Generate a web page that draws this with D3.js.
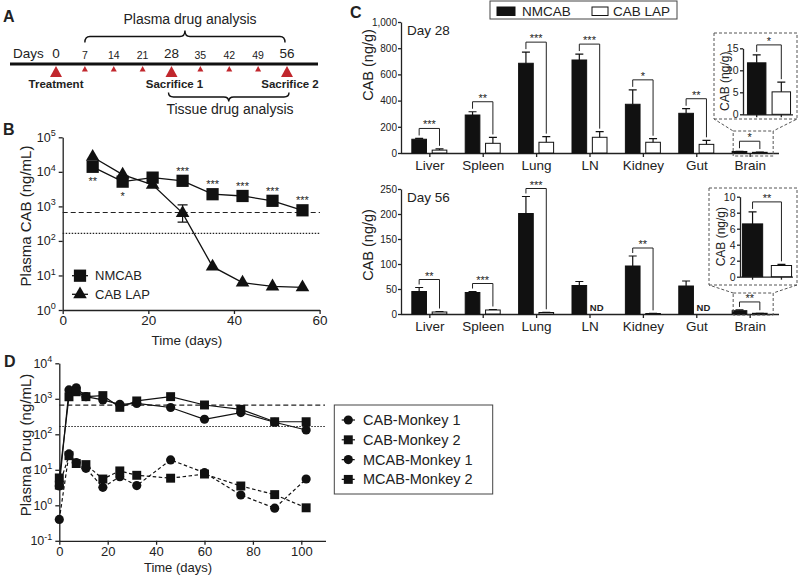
<!DOCTYPE html>
<html>
<head>
<meta charset="utf-8">
<script src="https://cdn.jsdelivr.net/npm/d3@7"></script>
<style>
  body { margin: 0; background: #fff; }
  text { font-family: "Liberation Sans", Arial, sans-serif; fill: #222; }
</style>
</head>
<body>
<svg width="800" height="580"></svg>
<script>
// ---------- data ----------
// A: study timeline
var bigDays = [0, 28, 56];
var smallDays = [7, 14, 21, 35, 42, 49];
var eventLabels = ['Treatment', 'Sacrifice 1', 'Sacrifice 2'];

// B: plasma CAB (ng/mL)
var daysB = [7, 14, 21, 28, 35, 42, 49, 56];
var nmcabB = [14000, 5200, 6800, 5500, 2250, 2000, 1450, 770];
var lapB = [27000, 8300, 4200, 640, 18, 6.2, 4.8, 4.5];
var lapLoB = [null, null, null, 350, null, null, null, null];
var lapHiB = [null, null, null, 1100, null, null, null, null];
var starsB = ['**', '*', '', '***', '***', '***', '***', '***'];
var ic90 = [664, 166];

// C: tissue CAB (ng/g)
var organs = ['Liver', 'Spleen', 'Lung', 'LN', 'Kidney', 'Gut', 'Brain'];
var groups = ['NMCAB', 'CAB LAP'];
var nm28 = [105, 290, 685, 710, 372, 303, 11.7];
var nm28Err = [6, 25, 85, 45, 110, 35, 1.8];
var lap28 = [22, 74, 82, 120, 82, 66, 5.1];
var lap28Err = [10, 45, 43, 43, 27, 31, 2.2];
var sig28 = ['***', '**', '***', '***', '*', '**', '*'];
var nm56 = [45, 43, 201, 57, 96, 56, 6.6];
var nm56Err = [8, 2, 34, 8, 20, 10, 1.5];
var lap56 = [4, 8, 3, 0, 1, 0, 1.4];
var lap56Err = [1, 1, 0.5, 0, 0.3, 0, 0.15];
var sig56 = ['**', '***', '***', '', '**', '', '**'];
var nd56 = ['', '', '', 'ND', '', 'ND', ''];

// D: monkey plasma drug (ng/mL)
var daysD = [0, 4, 7, 11, 18, 25, 32, 46, 60, 75, 89, 102];
var cabM1 = [3.5, 1780, 2050, 1150, 930, 700, 740, 570, 265, 410, 218, 132];
var cabM2 = [5.9, 1140, 1580, 1150, 1230, 575, 870, 1150, 670, 505, 226, 226];
var mcabM1 = [0.4, 28, 16, 11, 3.2, 6.4, 3.6, 19, 8.3, 1.95, 0.83, 5.5];
var mcabM2 = [3.7, 25, 15, 14, 5.5, 9.3, 7, 5.8, 7.6, 3.5, 2, 0.85];

var svg = d3.select('svg');

function styleAxis(g, size) {
  g.attr('font-size', size).attr('color', '#222');
  g.selectAll('path, line').attr('stroke-width', 1.3);
  return g;
}

function powLabels(g, x, size) {
  g.selectAll('.tick text').each(function(d) {
    var t = d3.select(this).attr('x', x).attr('font-size', size);
    t.append('tspan').text('10');
    t.append('tspan').attr('dy', '-0.6em').attr('font-size', size * 0.72)
      .text(Math.round(Math.log10(d)));
  });
}

function letter(t, x, y) {
  svg.append('text').attr('x', x).attr('y', y).attr('font-size', 16)
    .attr('font-weight', 'bold').text(t);
}

letter('A', 3, 22);
letter('B', 3, 135);
letter('C', 350, 18);
letter('D', 4, 367);

// ---------- A: timeline ----------
var xA = d3.scaleLinear().domain([0, 56]).range([56, 287]);
var gA = svg.append('g');

gA.append('line').attr('x1', 10).attr('x2', 318).attr('y1', 64).attr('y2', 64)
  .attr('stroke', '#111').attr('stroke-width', 3);

gA.append('text').attr('x', 13).attr('y', 58).attr('font-size', 13.5).text('Days');

gA.selectAll('.bigday').data(bigDays).enter().append('text')
  .attr('x', d => xA(d)).attr('y', 58).attr('text-anchor', 'middle')
  .attr('font-size', 13.5).text(d => d);

gA.selectAll('.smallday').data(smallDays).enter().append('text')
  .attr('x', d => xA(d)).attr('y', 59).attr('text-anchor', 'middle')
  .attr('font-size', 10.5).text(d => d);

gA.selectAll('.bigtri').data(bigDays).enter().append('path')
  .attr('d', d => 'M' + (xA(d) - 6) + ',77L' + xA(d) + ',66L' + (xA(d) + 6) + ',77Z')
  .attr('fill', '#c1272d');

gA.selectAll('.smalltri').data(smallDays).enter().append('path')
  .attr('d', d => 'M' + (xA(d) - 3) + ',71.5L' + xA(d) + ',66L' + (xA(d) + 3) + ',71.5Z')
  .attr('fill', '#c1272d');

gA.selectAll('.event').data(bigDays).enter().append('text')
  .attr('x', (d, i) => xA(d) + (i ? 3 : 0)).attr('y', 88).attr('text-anchor', 'middle')
  .attr('font-size', 11.5).attr('font-weight', 'bold')
  .text((d, i) => eventLabels[i]);

// curly brace, e > 0 means ends point down
function brace(x1, x2, y, e) {
  var m = (x1 + x2) / 2;
  return 'M' + x1 + ',' + (y + e) + 'Q' + x1 + ',' + y + ' ' + (x1 + 5) + ',' + y +
    'L' + (m - 5) + ',' + y + 'Q' + m + ',' + y + ' ' + m + ',' + (y - e) +
    'Q' + m + ',' + y + ' ' + (m + 5) + ',' + y +
    'L' + (x2 - 5) + ',' + y + 'Q' + x2 + ',' + y + ' ' + x2 + ',' + (y + e);
}

gA.append('path').attr('d', brace(xA(7), xA(56) - 2, 36.5, 6))
  .attr('fill', 'none').attr('stroke', '#111').attr('stroke-width', 1.4);
gA.append('text').attr('x', 190).attr('y', 24).attr('text-anchor', 'middle')
  .attr('font-size', 14).text('Plasma drug analysis');

gA.append('path').attr('d', brace(xA(28) - 3, xA(56) + 2, 97, -4.5))
  .attr('fill', 'none').attr('stroke', '#111').attr('stroke-width', 1.4);
gA.append('text').attr('x', 230).attr('y', 114).attr('text-anchor', 'middle')
  .attr('font-size', 14).text('Tissue drug analysis');

// ---------- B: plasma CAB ----------
var xB = d3.scaleLinear().domain([0, 60]).range([62.7, 319.6]);
var yB = d3.scaleLog().domain([1, 1e5]).range([310, 137.3]);
var gB = svg.append('g');

gB.selectAll('.ic').data(ic90).enter().append('line')
  .attr('x1', xB(0)).attr('x2', 320).attr('y1', d => yB(d)).attr('y2', d => yB(d))
  .attr('stroke', '#222').attr('stroke-width', 1.2)
  .attr('stroke-dasharray', (d, i) => i ? '1.5,1.5' : '5,3');

var xAxisB = gB.append('g').attr('transform', 'translate(0,310)')
  .call(d3.axisBottom(xB).tickValues([0, 20, 40, 60]).tickSize(4).tickPadding(1).tickSizeOuter(0));
styleAxis(xAxisB, 13.5);

var yAxisB = gB.append('g').attr('transform', 'translate(62.7,0)')
  .call(d3.axisLeft(yB).tickValues([1, 10, 100, 1000, 1e4, 1e5]).tickSize(4)
    .tickSizeOuter(0).tickFormat(''));
styleAxis(yAxisB, 12.5);
powLabels(yAxisB, -7, 12.5);

gB.append('text').attr('transform', 'translate(31,216) rotate(-90)')
  .attr('text-anchor', 'middle').attr('font-size', 15).text('Plasma CAB (ng/mL)');
gB.append('text').attr('x', 187).attr('y', 345).attr('text-anchor', 'middle')
  .attr('font-size', 13.5).text('Time (days)');

var lineB = d3.line().x((d, i) => xB(daysB[i])).y(d => yB(d));
gB.append('path').attr('d', lineB(lapB)).attr('fill', 'none').attr('stroke', '#111').attr('stroke-width', 1.3);
gB.append('path').attr('d', lineB(nmcabB)).attr('fill', 'none').attr('stroke', '#111').attr('stroke-width', 1.3);

// error bar on CAB LAP
gB.selectAll('.errB').data(daysB.filter((d, i) => lapLoB[i] != null)).enter().append('path')
  .attr('d', d => {
    var i = daysB.indexOf(d), cx = xB(d), y0 = yB(lapLoB[i]), y1 = yB(lapHiB[i]);
    return 'M' + cx + ',' + y0 + 'V' + y1 + 'M' + (cx - 5) + ',' + y0 + 'H' + (cx + 5) +
      'M' + (cx - 5) + ',' + y1 + 'H' + (cx + 5);
  })
  .attr('stroke', '#111').attr('stroke-width', 1.2).attr('fill', 'none');

var triB = d3.symbol().type(d3.symbolTriangle).size(80);
var sqB = d3.symbol().type(d3.symbolSquare).size(150);

gB.selectAll('.tri').data(lapB).enter().append('path')
  .attr('transform', (d, i) => 'translate(' + xB(daysB[i]) + ',' + yB(d) + ')')
  .attr('d', triB).attr('fill', '#111');
gB.selectAll('.sq').data(nmcabB).enter().append('path')
  .attr('transform', (d, i) => 'translate(' + xB(daysB[i]) + ',' + yB(d) + ')')
  .attr('d', sqB).attr('fill', '#111');

// significance stars: above when NMCAB higher, below otherwise
gB.selectAll('.starB').data(starsB).enter().append('text')
  .attr('x', (d, i) => xB(daysB[i]))
  .attr('y', (d, i) => nmcabB[i] > lapB[i] ? yB(nmcabB[i]) - 6 : yB(nmcabB[i]) + 18)
  .attr('text-anchor', 'middle').attr('font-size', 11).text(d => d);

// legend B
[['NMCAB', sqB], ['CAB LAP', triB]].forEach(function(l, i) {
  var ly = 275.7 + i * 18.6;
  gB.append('line').attr('x1', 72).attr('x2', 88).attr('y1', ly).attr('y2', ly)
    .attr('stroke', '#111').attr('stroke-width', 1.3);
  gB.append('path').attr('transform', 'translate(80,' + ly + ')').attr('d', l[1]).attr('fill', '#111');
  gB.append('text').attr('x', 95).attr('y', ly + 4.5).attr('font-size', 13).text(l[0]);
});

// ---------- C: tissue CAB ----------
var gC = svg.append('g');
var xC = d3.scaleBand().domain(organs).range([401, 779]).paddingOuter(0.04);
var xSub = d3.scaleBand().domain(groups)
  .range([xC.bandwidth() / 2 - 18, xC.bandwidth() / 2 + 17]).paddingInner(0.28);

// legend C
gC.append('rect').attr('x', 490).attr('y', 1).attr('width', 187).attr('height', 18)
  .attr('fill', '#fff').attr('stroke', '#444').attr('stroke-width', 1);
groups.forEach(function(gname, i) {
  var lx = [497, 592][i];
  gC.append('rect').attr('x', lx).attr('y', 7).attr('width', i ? 16 : 18).attr('height', 8.5)
    .attr('fill', i ? '#fff' : '#111').attr('stroke', '#111').attr('stroke-width', 1);
  gC.append('text').attr('x', lx + (i ? 21 : 25)).attr('y', 15.5).attr('font-size', 13.5).text(gname);
});

function makeRows(nm, nmE, lap, lapE, sig, nd) {
  return organs.map((o, i) => ({ organ: o, v: [nm[i], lap[i]], e: [nmE[i], lapE[i]], sig: sig[i], nd: nd ? nd[i] : '' }));
}

function drawBars(g, rows, xPos, bw, y, off) {
  [0, 1].forEach(function(j) {
    var vis = rows.filter(d => d.v[j] > 0);
    g.selectAll('rect.b' + j).data(vis).enter().append('rect')
      .attr('x', d => xPos(d, j)).attr('width', bw)
      .attr('y', d => y(d.v[j])).attr('height', d => y(0) - y(d.v[j]))
      .attr('fill', j ? '#fff' : '#111').attr('stroke', '#111').attr('stroke-width', 1);
    g.selectAll('path.e' + j).data(vis).enter().append('path')
      .attr('d', d => {
        var cx = xPos(d, j) + bw / 2, y0 = y(d.v[j]), y1 = y(d.v[j] + d.e[j]);
        return 'M' + cx + ',' + y0 + 'V' + y1 + 'M' + (cx - 4) + ',' + y1 + 'H' + (cx + 4);
      })
      .attr('stroke', '#111').attr('stroke-width', 1.2).attr('fill', 'none');
  });
  rows.filter(d => d.sig).forEach(function(d) {
    var xl = xPos(d, 0) + bw / 2, xr = xPos(d, 1) + bw / 2;
    var yl = y(d.v[0] + d.e[0]), yr = y(d.v[1] + d.e[1]);
    var yb = Math.min(yl, yr) - off;
    g.append('path').attr('d', 'M' + xl + ',' + (yl - 3) + 'V' + yb + 'H' + xr + 'V' + (yr - 3))
      .attr('fill', 'none').attr('stroke', '#222').attr('stroke-width', 1);
    g.append('text').attr('x', (xl + xr) / 2).attr('y', yb).attr('text-anchor', 'middle')
      .attr('font-size', 11).text(d.sig);
  });
  rows.filter(d => d.nd).forEach(function(d) {
    g.append('text').attr('x', xPos(d, 1) + bw / 2 - 3).attr('y', y(0) - 3)
      .attr('text-anchor', 'middle').attr('font-size', 9.5).attr('font-weight', 'bold').text(d.nd);
  });
}

function tissuePanel(rows, y, ticks, dayLabel, labelY, off) {
  var g = gC.append('g');
  var yAx = g.append('g').attr('transform', 'translate(401,0)')
    .call(d3.axisLeft(y).tickValues(ticks).tickSize(3).tickPadding(1).tickSizeOuter(0));
  styleAxis(yAx, 10);
  var xAx = g.append('g').attr('transform', 'translate(0,' + y(0) + ')')
    .call(d3.axisBottom(xC).tickSize(4).tickSizeOuter(0));
  styleAxis(xAx, 13.5);
  xAx.select('.domain').attr('d', 'M401,0.5H779');
  g.append('text').attr('x', 407).attr('y', y(ticks[ticks.length - 1]) + 13).attr('font-size', 13.5).text(dayLabel);
  g.append('text').attr('transform', 'translate(373,' + labelY + ') rotate(-90)')
    .attr('text-anchor', 'middle').attr('font-size', 14.5).text('CAB (ng/g)');
  drawBars(g, rows, (d, j) => xC(d.organ) + xSub(groups[j]), xSub.bandwidth(), y, off);
  return g;
}

function inset(g, row, y, ticks, xIn, axisX, box, labelX) {
  var bx = xC('Brain') + xC.bandwidth() / 2;
  var small = [bx - 17, bx + 23, box[4], box[5]];
  g.append('path').attr('d',
    'M' + box[0] + ',' + box[2] + 'H' + box[1] + 'V' + box[3] + 'L' + small[1] + ',' + small[2] +
    'M' + box[0] + ',' + box[2] + 'V' + box[3] + 'L' + small[0] + ',' + small[2] +
    'M' + small[0] + ',' + small[2] + 'H' + small[1] + 'V' + small[3] + 'H' + small[0] + 'Z' +
    'M' + box[0] + ',' + box[3] + 'H' + box[1])
    .attr('stroke', '#555').attr('stroke-width', 1).attr('stroke-dasharray', '3,2').attr('fill', 'none');
  var yAx = g.append('g').attr('transform', 'translate(' + axisX + ',0)')
    .call(d3.axisLeft(y).tickValues(ticks).tickSize(3).tickPadding(1.5).tickSizeOuter(0));
  styleAxis(yAx, 10.5);
  var xAx = g.append('g').attr('transform', 'translate(0,' + y(0) + ')')
    .call(d3.axisBottom(xIn).tickSize(3).tickSizeOuter(0).tickFormat(''));
  styleAxis(xAx, 10);
  xAx.select('.domain').attr('d', 'M' + axisX + ',0.5H' + xIn.range()[1]);
  g.append('text').attr('transform', 'translate(' + labelX + ',' + (y.range()[0] + y.range()[1]) / 2 + ') rotate(-90)')
    .attr('text-anchor', 'middle').attr('font-size', 12).text('CAB (ng/g)');
  drawBars(g, [row], (d, j) => xIn(groups[j]), xIn.bandwidth(), y, 10);
}

var yC28 = d3.scaleLinear().domain([0, 1000]).range([153, 22]);
var yC56 = d3.scaleLinear().domain([0, 250]).range([314, 189]);
var rows28 = makeRows(nm28, nm28Err, lap28, lap28Err, sig28);
var rows56 = makeRows(nm56, nm56Err, lap56, lap56Err, sig56, nd56);

var g28 = tissuePanel(rows28, yC28, [0, 200, 400, 600, 800, 1000], 'Day 28', 65, 10);
var g56 = tissuePanel(rows56, yC56, [0, 50, 100, 150, 200, 250], 'Day 56', 245, 8);

var yIn28 = d3.scaleLinear().domain([0, 15]).range([114.3, 48.3]);
var xIn28 = d3.scaleBand().domain(groups).range([745, 793]).paddingInner(0.25).paddingOuter(0.1);
inset(g28, rows28[6], yIn28, [0, 5, 10, 15], xIn28, 743, [714, 797, 33, 119, 131, 156], 729);

var yIn56 = d3.scaleLinear().domain([0, 10]).range([276.7, 196.7]);
var xIn56 = d3.scaleBand().domain(groups).range([741, 793]).paddingInner(0.3).paddingOuter(0.05);
inset(g56, rows56[6], yIn56, [0, 2, 4, 6, 8, 10], xIn56, 740, [709, 797, 188, 285, 293, 315], 725);

// ---------- D: monkeys ----------
var xD = d3.scaleLinear().domain([0, 110]).range([59.3, 325.5]);
var yD = d3.scaleLog().domain([0.1, 1e4]).range([540.8, 363.3]);
var gD = svg.append('g');

gD.selectAll('.ic').data(ic90).enter().append('line')
  .attr('x1', xD(0)).attr('x2', 325).attr('y1', d => yD(d)).attr('y2', d => yD(d))
  .attr('stroke', '#222').attr('stroke-width', 1.2)
  .attr('stroke-dasharray', (d, i) => i ? '1.5,1.5' : '5,3');

var xAxisD = gD.append('g').attr('transform', 'translate(0,540.8)')
  .call(d3.axisBottom(xD).tickValues([0, 20, 40, 60, 80, 100]).tickSize(4).tickPadding(2).tickSizeOuter(0));
styleAxis(xAxisD, 13);

var yAxisD = gD.append('g').attr('transform', 'translate(59.3,0)')
  .call(d3.axisLeft(yD).tickValues([0.1, 1, 10, 100, 1000, 1e4]).tickSize(4)
    .tickSizeOuter(0).tickFormat(''));
styleAxis(yAxisD, 12.5);
powLabels(yAxisD, -7, 12.5);

gD.append('text').attr('transform', 'translate(31,445) rotate(-90)')
  .attr('text-anchor', 'middle').attr('font-size', 15).text('Plasma Drug (ng/mL)');
gD.append('text').attr('x', 178).attr('y', 572).attr('text-anchor', 'middle')
  .attr('font-size', 13).text('Time (days)');

var circD = d3.symbol().type(d3.symbolCircle).size(66);
var sqD = d3.symbol().type(d3.symbolSquare).size(80);
var seriesD = [
  { name: 'CAB-Monkey 1', values: cabM1, sym: circD, dash: null },
  { name: 'CAB-Monkey 2', values: cabM2, sym: sqD, dash: null },
  { name: 'MCAB-Monkey 1', values: mcabM1, sym: circD, dash: '3.5,2.5' },
  { name: 'MCAB-Monkey 2', values: mcabM2, sym: sqD, dash: '3.5,2.5' }
];
var lineD = d3.line().x((d, i) => xD(daysD[i])).y(d => yD(d));

seriesD.forEach(function(s) {
  gD.append('path').attr('d', lineD(s.values)).attr('fill', 'none')
    .attr('stroke', '#111').attr('stroke-width', 1.2).attr('stroke-dasharray', s.dash);
  gD.selectAll(null).data(s.values).enter().append('path')
    .attr('transform', (d, i) => 'translate(' + xD(daysD[i]) + ',' + yD(d) + ')')
    .attr('d', s.sym).attr('fill', '#111');
});

// legend D
gD.append('rect').attr('x', 334.3).attr('y', 405).attr('width', 158.4).attr('height', 89)
  .attr('fill', '#fff').attr('stroke', '#444').attr('stroke-width', 1);
seriesD.forEach(function(s, i) {
  var ly = 420 + i * 19.8;
  gD.append('line').attr('x1', 341.7).attr('x2', 355).attr('y1', ly).attr('y2', ly)
    .attr('stroke', '#111').attr('stroke-width', 1.2).attr('stroke-dasharray', s.dash ? '3,2' : null);
  gD.append('path').attr('transform', 'translate(348.3,' + ly + ')').attr('d', s.sym).attr('fill', '#111');
  gD.append('text').attr('x', 363).attr('y', ly + 5).attr('font-size', 14.5).text(s.name);
});
</script>
</body>
</html>
